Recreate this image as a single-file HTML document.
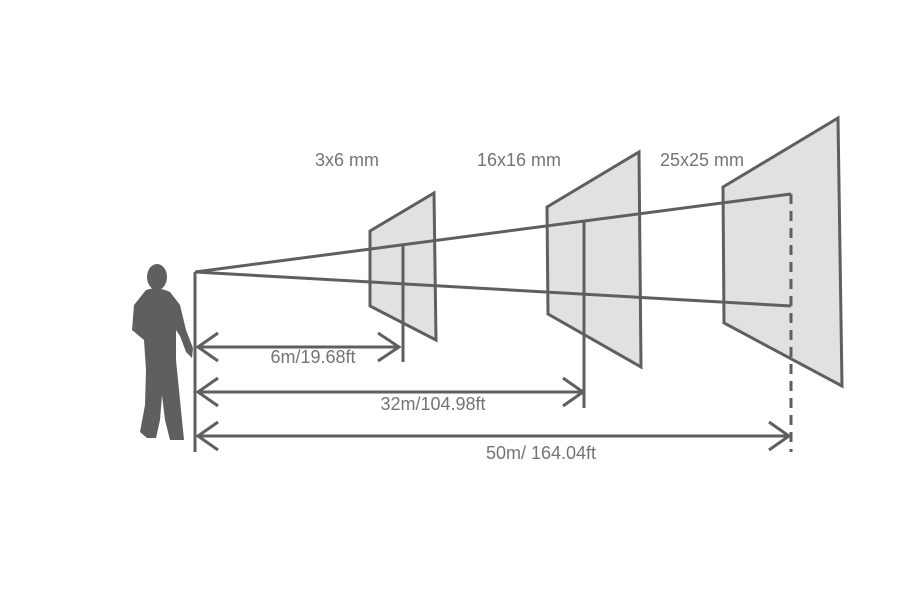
<!DOCTYPE html>
<html><head><style>body{margin:0;background:#fff}svg{display:block}</style></head><body>
<svg width="900" height="600" viewBox="0 0 900 600" xmlns="http://www.w3.org/2000/svg">
<g fill="#e1e1e2" stroke="#5f5f60" stroke-width="3" stroke-linejoin="miter">
<polygon points="370,231 434,193 436,340 370,306"/>
<polygon points="547,207 639,152 641,367 548,314"/>
<polygon points="723,187 838,118 842,386 724,323"/>
</g>
<g stroke="#5f5f60" stroke-width="3" fill="none">
<line x1="195" y1="272" x2="791" y2="194"/>
<line x1="195" y1="272" x2="791" y2="306"/>
<line x1="195" y1="272" x2="195" y2="452"/>
<line x1="403" y1="246" x2="403" y2="362"/>
<line x1="584" y1="222" x2="584" y2="408"/>
<line x1="791" y1="194" x2="791" y2="452" stroke-dasharray="10,7"/>
<line x1="197" y1="347" x2="400" y2="347"/>
<line x1="197" y1="392" x2="582" y2="392"/>
<line x1="197" y1="436" x2="789" y2="436"/>
<polyline points="218,333 198,347 218,361"/>
<polyline points="378,333 399,347 378,361"/>
<polyline points="218,378 198,392 218,406"/>
<polyline points="563,378 583,392 563,406"/>
<polyline points="218,422 198,436 218,450"/>
<polyline points="769,422 789,436 769,450"/>
</g>
<g fill="#5f5f60">
<ellipse cx="157" cy="277" rx="10" ry="13"/>
<path d="M146,290 Q157,286 170,292 L180,305 L186,330 L193,348 L192,358 L186,352 L180,336 L176,330 L176,360 L180,400 L183,430 L184,440 L170,440 L165,420 L162,395 L160,420 L156,438 L147,438 L140,432 L145,405 L146,370 L144,340 L138,335 L132,330 L134,305 Z"/>
</g>
<g font-family="Liberation Sans, sans-serif" font-size="18" fill="#747475" text-anchor="middle">
<text x="347" y="166">3x6 mm</text>
<text x="519" y="166">16x16 mm</text>
<text x="702" y="166">25x25 mm</text>
<text x="313" y="363">6m/19.68ft</text>
<text x="433" y="410">32m/104.98ft</text>
<text x="541" y="459">50m/ 164.04ft</text>
</g>
</svg>
</body></html>
